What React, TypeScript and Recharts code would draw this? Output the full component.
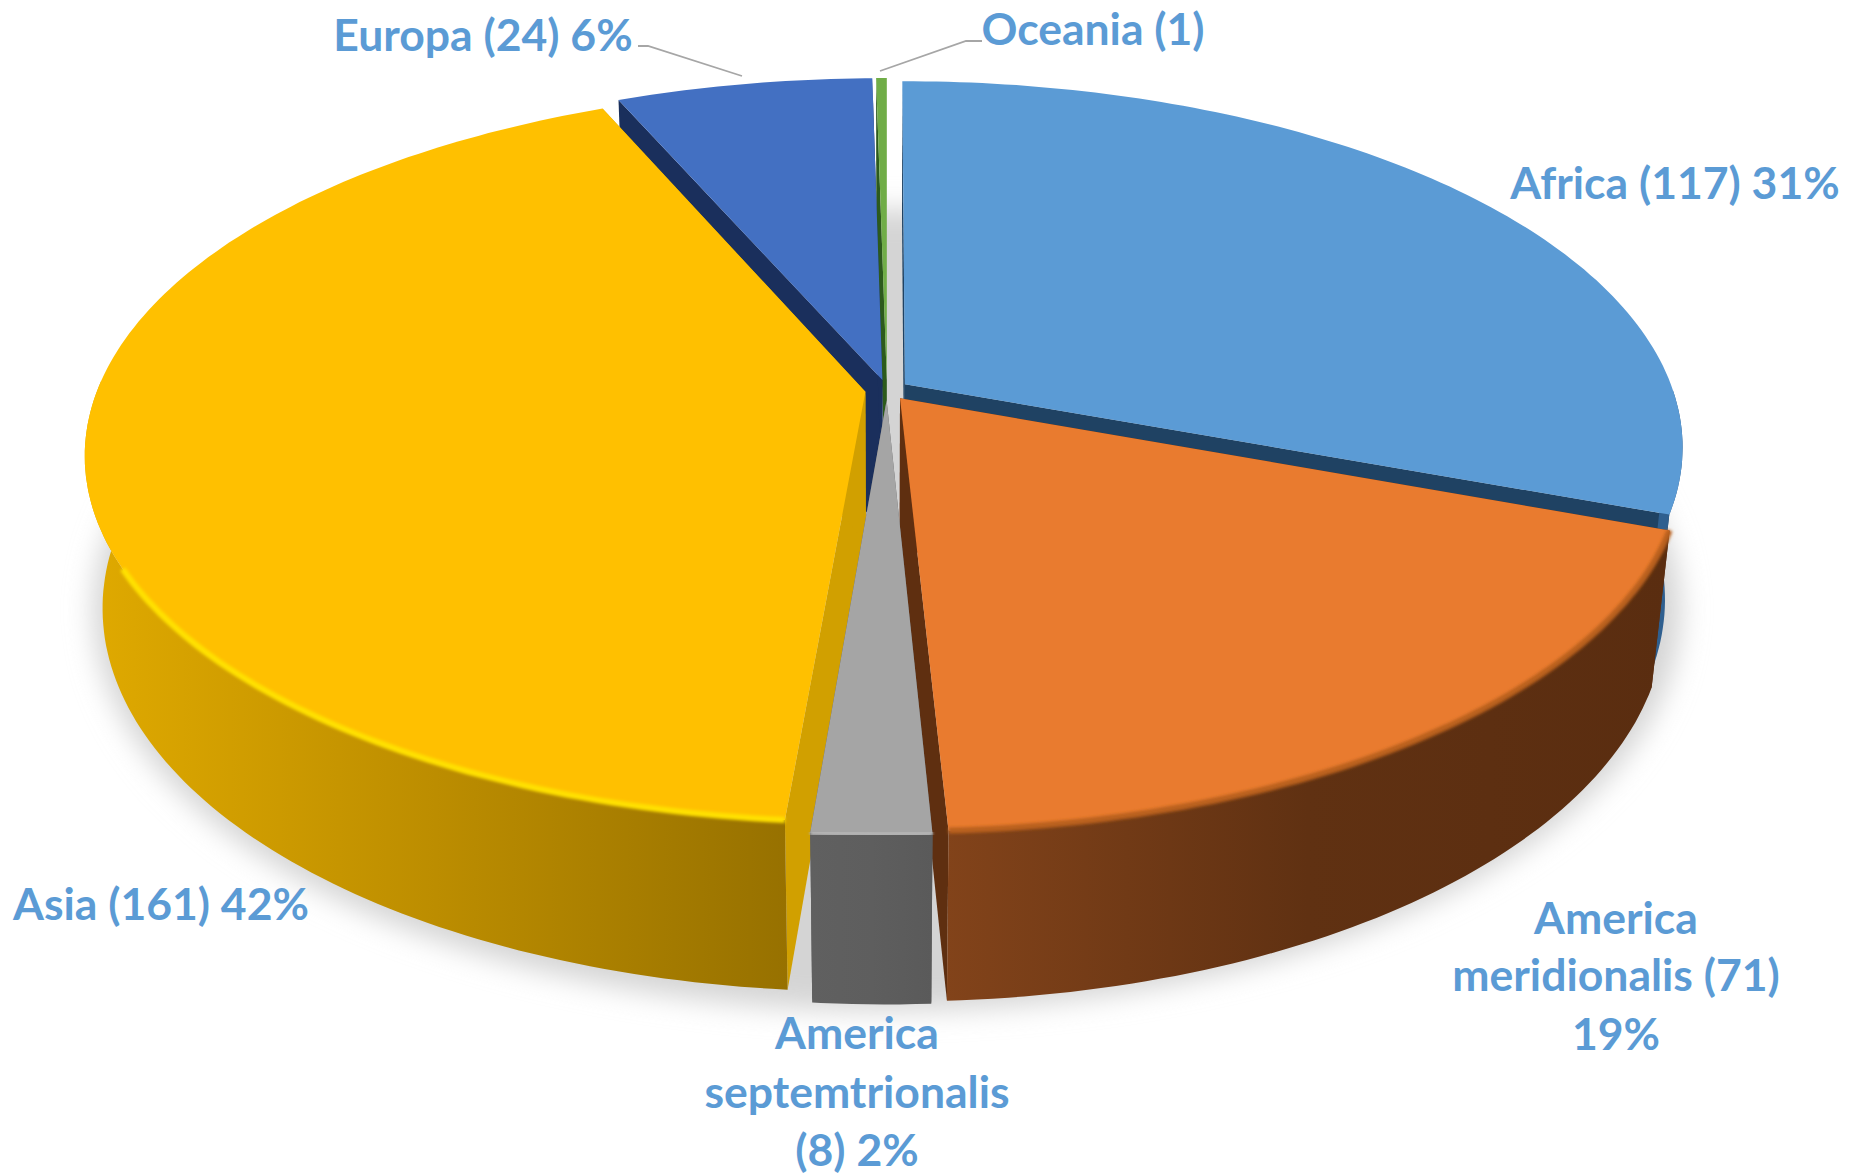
import React from "react";
import { PieChart, Pie } from "recharts";

const continents = [
  "Africa",
  "America meridionalis",
  "America septemtrionalis",
  "Asia",
  "Europa",
  "Oceania",
];
const counts = [117, 71, 8, 161, 24, 1];

// back of the pie is painted first
const paintOrder = ["Oceania", "Europa", "Africa", "Asia", "America meridionalis", "America septemtrionalis"];

const rows = continents.map((name, i) => ({ name, value: counts[i] }));
const floorRow = [{ name: "floor", value: counts.reduce((a, b) => a + b, 0) }];

const WIDTH = 1860;
const HEIGHT = 1176;
const CX = 887;
const CY = 390;
const RADIUS = 768;
const TILT = 0.464;
const PERSPECTIVE = 0.17;
const DEPTH = 154;
const DEPTH_SHRINK = 0.022;
const EXPLODE = 0.0285;

const TEXT_BLUE = "#5B9BD5";
const LEADER = "#A6A6A6";

const looks: Record<string, any> = {
  Africa: { top: "#5B9BD5", cut: "#1F4263", wall: ["#2F5F8F", "#2F5F8F", "#285580"] },
  "America meridionalis": { top: "#E97B2F", cut: "#5F2F10", wall: ["#82431A", "#603112", "#5A2D10"], rim: "#B9601F" },
  "America septemtrionalis": { top: "#A5A5A5", cut: "#5E5E5E", wall: ["#606060", "#5E5E5E", "#5A5A5A"], rim: "#B4B4B4" },
  Asia: { top: "#FFC000", cut: "#D1A000", wall: ["#E0AA00", "#BC8D00", "#977100"], rim: "#FFE000" },
  Europa: { top: "#4370C2", cut: "#1A2F5C", wall: ["#1A2F5C", "#1A2F5C", "#1A2F5C"] },
  Oceania: { top: "#70AD47", cut: "#2C5A1C", wall: ["#2C5A1C", "#2C5A1C", "#2C5A1C"] },
};

const labelSpots: Record<string, any> = {
  Africa: { x: 1675, lines: [181] },
  "America meridionalis": { x: 1616, lines: [916, 973, 1032] },
  "America septemtrionalis": { x: 857, lines: [1031, 1090, 1148] },
  Asia: { x: 161, lines: [902] },
  Europa: { x: 483, lines: [33], leader: "638,46 648,46 742,76" },
  Oceania: { x: 1093, lines: [27], leader: "982,41 966,41 880,71" },
};

const labelLines: Record<string, string[]> = {
  Africa: ["Africa (117) 31%"],
  "America meridionalis": ["America", "meridionalis (71)", "19%"],
  "America septemtrionalis": ["America", "septemtrionalis", "(8) 2%"],
  Asia: ["Asia (161) 42%"],
  Europa: ["Europa (24) 6%"],
  Oceania: ["Oceania (1)"],
};

const rad = (deg: number) => (deg * Math.PI) / 180;

// flat pie coordinates -> screen, with the perspective of the 3D chart
function project(u: number, v: number, z: number) {
  const w = 1 + PERSPECTIVE * v + DEPTH_SHRINK * z;
  return [CX + (RADIUS * u) / w, CY + (-RADIUS * TILT * v + DEPTH * z) / w];
}

function toPath(points: number[][], close = true) {
  const d = points.map((p, i) => `${i ? "L" : "M"}${p[0].toFixed(1)} ${p[1].toFixed(1)}`).join(" ");
  return close ? d + " Z" : d;
}

function arcAngles(from: number, to: number) {
  const out: number[] = [];
  for (let a = from; a < to; a += 1) out.push(a);
  out.push(to);
  return out;
}

function Slice(props: any) {
  const { name, startAngle, endAngle } = props;
  const look = looks[name];
  const from = 90 - startAngle;
  const to = 90 - endAngle;
  const mid = (from + to) / 2;
  const ou = EXPLODE * Math.sin(rad(mid));
  const ov = EXPLODE * Math.cos(rad(mid));
  const at = (a: number, z: number) => project(ou + Math.sin(rad(a)), ov + Math.cos(rad(a)), z);
  const apex = (z: number) => project(ou, ov, z);
  const angles = arcAngles(from, to);
  const front = angles.filter((a) => a > 90 && a < 272);
  const rimArc = front.filter((a) => a < 243);
  const gradId = "wall-" + name.replace(/\s/g, "");

  const topFace = [apex(0), ...angles.map((a) => at(a, 0))];
  const cutStart = [apex(0), at(from, 0), at(from, 1), apex(1)];
  const cutEnd = [apex(0), at(to, 0), at(to, 1), apex(1)];
  const wall = [...front.map((a) => at(a, 0)), ...[...front].reverse().map((a) => at(a, 1))];

  return (
    <g>
      <defs>
        <linearGradient id={gradId} x1="0" y1="0" x2="1" y2="0">
          <stop offset="0" stopColor={look.wall[0]} />
          <stop offset="0.5" stopColor={look.wall[1]} />
          <stop offset="1" stopColor={look.wall[2]} />
        </linearGradient>
      </defs>
      <path d={toPath(cutStart)} fill={look.cut} />
      <path d={toPath(cutEnd)} fill={look.cut} />
      {front.length > 1 && <path d={toPath(wall)} fill={`url(#${gradId})`} />}
      <path d={toPath(topFace)} fill={look.top} />
      {look.rim && rimArc.length > 1 && (
        <path
          d={toPath(rimArc.map((a) => at(a, 0)), false)}
          fill="none"
          stroke={look.rim}
          strokeWidth={6}
          filter="url(#rimBlur)"
        />
      )}
    </g>
  );
}

function FloorShadow() {
  const ring = arcAngles(0, 360).map((a) => project(1.04 * Math.sin(rad(a)), 1.04 * Math.cos(rad(a)), 1));
  return (
    <g>
      <defs>
        <filter id="floorBlur" x="-10%" y="-10%" width="120%" height="120%">
          <feGaussianBlur stdDeviation="14" />
        </filter>
        <filter id="rimBlur" x="-5%" y="-5%" width="110%" height="110%">
          <feGaussianBlur stdDeviation="1.6" />
        </filter>
      </defs>
      <path d={toPath(ring)} fill="#D4D4D4" filter="url(#floorBlur)" />
    </g>
  );
}

function renderLabel(props: any) {
  const name = continents[props.index];
  const spot = labelSpots[name];
  return (
    <g key={name}>
      {spot.leader && <polyline points={spot.leader} fill="none" stroke={LEADER} strokeWidth={1.8} />}
      {labelLines[name].map((line, i) => (
        <text
          key={line}
          x={spot.x}
          y={spot.lines[i]}
          textAnchor="middle"
          dominantBaseline="central"
          fill={TEXT_BLUE}
          fontFamily="Lato, 'Open Sans', sans-serif"
          fontWeight={700}
          fontSize={44.5}
        >
          {line}
        </text>
      ))}
    </g>
  );
}

const pieGeometry = {
  dataKey: "value",
  nameKey: "name",
  cx: CX,
  cy: CY,
  innerRadius: 0,
  outerRadius: RADIUS,
  startAngle: 90,
  endAngle: -270,
  stroke: "none",
  isAnimationActive: false,
};

export default function App() {
  return (
    <div style={{ position: "absolute", left: 0, top: 0, width: WIDTH, height: HEIGHT, background: "#fff" }}>
      <PieChart width={WIDTH} height={HEIGHT} margin={{ top: 0, right: 0, bottom: 0, left: 0 }}>
        <Pie {...pieGeometry} data={floorRow} shape={() => <FloorShadow />} />
        {paintOrder.map((name) => (
          <Pie
            key={name}
            {...pieGeometry}
            data={rows}
            shape={(p: any) => (p.name === name ? <Slice {...p} /> : <g />)}
          />
        ))}
        <Pie {...pieGeometry} data={rows} shape={() => <g />} label={renderLabel} labelLine={false} />
      </PieChart>
    </div>
  );
}
